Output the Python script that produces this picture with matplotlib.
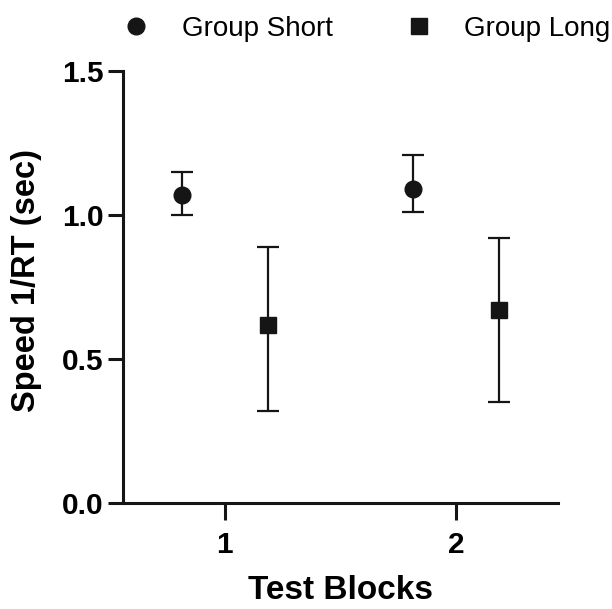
import numpy as np
import matplotlib.pyplot as plt
from matplotlib.lines import Line2D

plt.rcParams['font.family'] = ['Liberation Sans', 'DejaVu Sans']

blocks = [1, 2]
short_mean = [1.07, 1.09]
short_lo = [1.00, 1.01]
short_hi = [1.15, 1.21]
long_mean = [0.62, 0.67]
long_lo = [0.32, 0.35]
long_hi = [0.89, 0.92]

x = np.array(blocks, dtype=float)
off = 0.185
col = '#151515'

fig = plt.figure(figsize=(6.12, 6.09), dpi=100)
ax = fig.add_axes([0.201, 0.174, 0.711, 0.709])

sm = np.array(short_mean)
lm = np.array(long_mean)
ax.errorbar(x - off, sm, yerr=[sm - np.array(short_lo), np.array(short_hi) - sm],
            fmt='o', color=col, ms=12, elinewidth=1.6, capsize=8, capthick=1.6,
            clip_on=False)
ax.errorbar(x + off, lm, yerr=[lm - np.array(long_lo), np.array(long_hi) - lm],
            fmt='s', color=col, ms=12, elinewidth=1.6, capsize=8, capthick=1.6,
            clip_on=False)

ax.set_xlim(0.56, 2.44)
ax.set_ylim(0, 1.5)
ax.set_xticks(blocks)
ax.set_yticks([0, 0.5, 1.0, 1.5])
ax.set_yticklabels(['0.0', '0.5', '1.0', '1.5'])

for s in ['top', 'right']:
    ax.spines[s].set_visible(False)
for s in ['left', 'bottom']:
    ax.spines[s].set_linewidth(2.2)
    ax.spines[s].set_color(col)
ax.tick_params(axis='both', width=2.2, color=col, labelsize=21.5)
ax.tick_params(axis='y', length=11, pad=3)
ax.tick_params(axis='x', length=12, pad=8)
for t in ax.get_xticklabels() + ax.get_yticklabels():
    t.set_fontweight('bold')

ax.set_xlabel('Test Blocks', fontsize=24, fontweight='bold', labelpad=12)
ax.set_ylabel('Speed 1/RT (sec)', fontsize=23.5, fontweight='bold')
ax.yaxis.set_label_coords(-0.187, 0.516)

handles = [Line2D([], [], ls='none', marker='o', color=col, ms=12),
           Line2D([], [], ls='none', marker='s', color=col, ms=11)]
ax.legend(handles, ['Group Short', 'Group Long'], loc='lower center',
          bbox_to_anchor=(0.551, 1.043), ncol=2, frameon=False,
          fontsize=20, handletextpad=0.9, columnspacing=2.35, handlelength=1.5,
          borderaxespad=0)

fig.savefig('out.png', dpi=100)
